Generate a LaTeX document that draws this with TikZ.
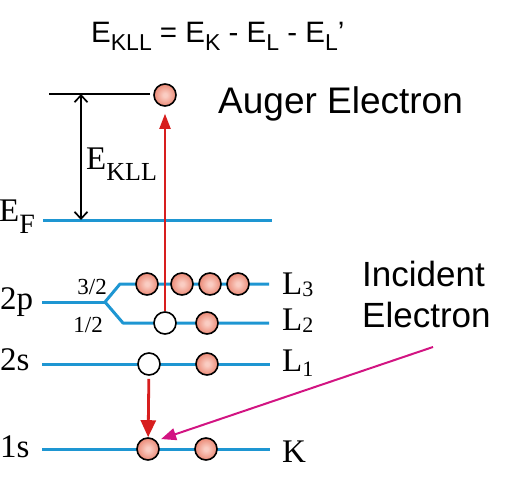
\documentclass[tikz,border=0pt]{standalone}
\usepackage{fontspec}
\setmainfont{Liberation Serif}
\newfontfamily\sansfnt{Liberation Sans}
\usetikzlibrary{arrows.meta}
\definecolor{lvl}{RGB}{30,150,210}
\definecolor{redarr}{RGB}{215,30,30}
\definecolor{magarr}{RGB}{210,20,130}
\definecolor{bcenter}{RGB}{250,205,195}
\definecolor{bmid}{RGB}{234,135,115}
\definecolor{bedge}{RGB}{214,92,74}
\pgfdeclareradialshading{eball}{\pgfpoint{0bp}{0bp}}{color(0bp)=(bcenter); color(4bp)=(bcenter); color(26bp)=(bmid); color(50bp)=(bedge)}
\newcommand{\fsz}[1]{\fontsize{#1}{#1}\selectfont}
\newcommand{\sbs}[2]{\raisebox{-#1pt}{\fsz{22}#2}}
\begin{document}
\begin{tikzpicture}[x=1pt,y=-1pt,
  level/.style={draw=lvl,line width=3pt},
  elec/.style={circle,draw=black,line width=1.6pt,minimum size=22pt,inner sep=0pt,shading=eball},
  hole/.style={circle,draw=black,line width=1.6pt,minimum size=22pt,inner sep=0pt,fill=white},
  lab/.style={inner sep=0pt,font=\fsz{33}},
  frac/.style={inner sep=0pt,font=\fsz{23}},
  sanslab/.style={inner sep=0pt,font=\sansfnt\fsz{37}},
  redarrow/.style={draw=redarr,-{Triangle[length=15pt,width=11pt]}},
  magarrow/.style={draw=magarr,line width=2pt,-{Triangle[length=15pt,width=12pt]}},
  dblarrow/.style={draw=black,line width=1.7pt,{Straight Barb[length=7pt,width=13pt]}-{Straight Barb[length=7pt,width=13pt]}}
]
\useasboundingbox (0,0) rectangle (527,479);

% title
\node[inner sep=0pt,anchor=base west,font=\sansfnt\fsz{29.5}] (title) at (91,42)
  {E\raisebox{-8pt}{\fsz{23}KLL} = E\raisebox{-8pt}{\fsz{23}K} - E\raisebox{-8pt}{\fsz{23}L} - E\raisebox{-8pt}{\fsz{23}L}’};

% vacuum / auger level
\draw[black,line width=2.4pt] (49,94) coordinate (vacL) -- (150,94) coordinate (vacR);
\coordinate (eklltop) at (81,94);
\coordinate (ekllbot) at (81,220);

% levels
\draw[level] (43,220) -- (272,220);
\draw[level] (42,302) -- (105,302) coordinate (split);
\draw[level,line join=round] (split) -- (120,284) -- (269,284);
\draw[level,line join=round] (split) -- (123,323) -- (269,323);
\draw[level] (42,364) -- (270,364);
\draw[level] (42,449) -- (270,449);

% electrons and holes
\node[elec] (aug) at (165,95) {};
\node[elec] (l3a) at (147,284) {};
\node[elec] (l3b) at (182,284) {};
\node[elec] (l3c) at (210,284) {};
\node[elec] (l3d) at (238,284) {};
\node[hole] (h2) at (165,323) {};
\node[elec] (l2b) at (207,323) {};
\node[hole] (h1) at (149,364) {};
\node[elec] (l1b) at (207,364) {};
\node[elec] (k1) at (148,449) {};
\node[elec] (k2) at (206,449) {};

% arrows
\draw[dblarrow] (eklltop) -- (ekllbot);
\draw[redarrow,line width=2pt,shorten >=7pt] (h2) -- (aug);
\draw[redarrow,line width=2.8pt,shorten <=3pt,-{Triangle[length=17pt,width=15pt]}] (h1) -- (k1);
\coordinate (incsrc) at (433,347);
\draw[magarrow,shorten >=5pt] (incsrc) -- (k1.north east);

% labels
\node[lab,anchor=base west] (ekll) at (86,169) {E\raisebox{-11pt}{\fsz{26}KLL}};
\node[lab,anchor=base west] (ef) at (-1,221) {E\raisebox{-12pt}{\fsz{28}F}};
\node[lab,anchor=base west] (p2) at (0,309) {2p};
\node[lab,anchor=base west] (s2) at (0,370) {2s};
\node[lab,anchor=base west] (s1) at (0,457) {1s};
\node[frac,anchor=base east] (f32) at (107,294) {3/2};
\node[frac,anchor=base east] (f12) at (103,332) {1/2};
\node[lab,anchor=base west] (L3) at (282,294) {L\sbs{2}{3}};
\node[lab,anchor=base west] (L2) at (282,330) {L\sbs{2}{2}};
\node[lab,anchor=base west] (L1) at (282,371) {L\sbs{5}{1}};
\node[lab,anchor=base west] (K) at (282,462) {K};

\node[sanslab,anchor=base west] (auglab) at (218,113) {Auger Electron};
\node[inner sep=0pt,anchor=north west,align=left,font=\sansfnt\fsz{35}] (inclab) at (362,261)
  {Incident\\[6pt]Electron};
\end{tikzpicture}
\end{document}
